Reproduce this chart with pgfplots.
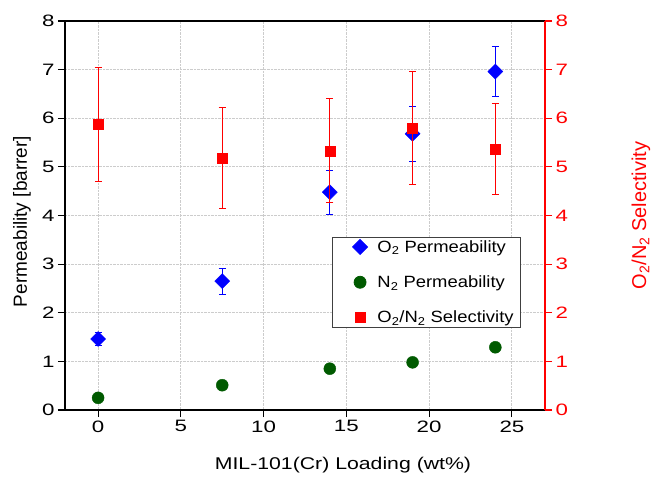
\documentclass[border=0pt]{standalone}
\usepackage{pgfplots}
\pgfplotsset{compat=1.18}
\usepackage{fontspec}
\setmainfont{Liberation Sans}
% the reference text is widened horizontally
\newfontfamily\tickfont{Liberation Sans}[FakeStretch=1.35]
\newfontfamily\xlabfont{Liberation Sans}[FakeStretch=1.25]
\newfontfamily\legfont{Liberation Sans}[FakeStretch=1.13]
\definecolor{mblue}{RGB}{0,0,255}
\definecolor{mgreen}{RGB}{0,90,0}
\definecolor{mred}{RGB}{255,0,0}

\begin{document}
\begin{tikzpicture}
% page = reference canvas, axis box at origin
\useasboundingbox (-65pt,-67pt) rectangle (589pt,410pt);
\pgfplotsset{
  every axis/.append style={
    width=480pt, height=389pt, scale only axis,
    xmin=-2, xmax=27, ymin=0, ymax=8,
    tick label style={font=\tickfont\fontsize{16.5}{18}\selectfont},
    /pgf/number format/assume math mode=true,
    tick align=outside,
    major tick length=7pt,
  },
}
% left axis: permeabilities
\begin{axis}[
  axis line style={black, line width=1.3pt},
  xtick={0,5,...,25}, ytick={0,1,...,8},
  xtick pos=bottom, ytick pos=left,
  grid=major,
  grid style={densely dotted, gray!40, line width=0.8pt},
  xlabel={MIL-101(Cr) Loading (wt\%)},
  ylabel={Permeability [barrer]},
  every axis x label/.style={at={(axis description cs:0.5,0)}, xshift=38pt, yshift=-55pt, anchor=center,
    font=\xlabfont\fontsize{17}{19}\selectfont},
  every axis y label/.style={at={(axis description cs:0,0.5)}, xshift=-43pt, yshift=-6pt, rotate=90, anchor=center,
    font=\fontsize{19}{21}\selectfont},
  every tick/.style={black, line width=1.2pt},
]
\addplot[only marks, mark=square*, mark size=5.3pt, mark options={rotate=45}, mblue,
  error bars/.cd, y dir=both, y explicit,
  error bar style={mblue, line width=0.8pt},
  error mark options={rotate=90, mark size=3.5pt, mblue, line width=0.8pt}]
  table[x=x, y=y, y error=e] {
x y e
0 1.46 0.13
7.5 2.65 0.27
14 4.48 0.45
19 5.68 0.57
24 6.96 0.52
};
\addplot[only marks, mark=*, mark size=6pt, mgreen] table {
0 0.25
7.5 0.51
14 0.85
19 0.98
24 1.29
};
\end{axis}
% right axis: selectivity
\begin{axis}[
  axis x line=none,
  axis y line*=right,
  axis line style={mred, line width=1.3pt},
  ytick={0,1,...,8},
  yticklabel style={mred},
  every tick/.style={mred, line width=1.2pt},
  ylabel={O\textsubscript{2}/N\textsubscript{2} Selectivity},
  every axis y label/.style={at={(axis description cs:1,0.5)}, xshift=96pt, yshift=0pt, rotate=90, anchor=center, mred,
    font=\fontsize{20}{22}\selectfont},
  legend style={at={(0.95,0.445)}, anchor=north east, draw=black!75,
    line width=0.8pt, font=\legfont\fontsize{16.3}{18}\selectfont,
    row sep=18pt, inner xsep=5pt, inner ysep=1pt},
  legend cell align=left,
  legend image code/.code={\path (0pt,0pt) (37pt,0pt); \draw[#1] plot coordinates {(22pt,0pt)};},
]
\addlegendimage{only marks, mark=square*, mark size=5.3pt, mark options={rotate=45}, mblue}
\addlegendentry{O\textsubscript{2} Permeability}
\addlegendimage{only marks, mark=*, mark size=6pt, mgreen}
\addlegendentry{N\textsubscript{2} Permeability}
\addplot[only marks, mark=square*, mark size=5pt, mred,
  error bars/.cd, y dir=both, y explicit,
  error bar style={mred, line width=0.8pt},
  error mark options={rotate=90, mark size=3.5pt, mred, line width=0.8pt}]
  table[x=x, y=y, y error=e] {
x y e
0 5.88 1.17
7.5 5.18 1.04
14 5.33 1.07
19 5.80 1.17
24 5.37 0.93
};
\addlegendentry{O\textsubscript{2}/N\textsubscript{2} Selectivity}
\end{axis}
\end{tikzpicture}
\end{document}
